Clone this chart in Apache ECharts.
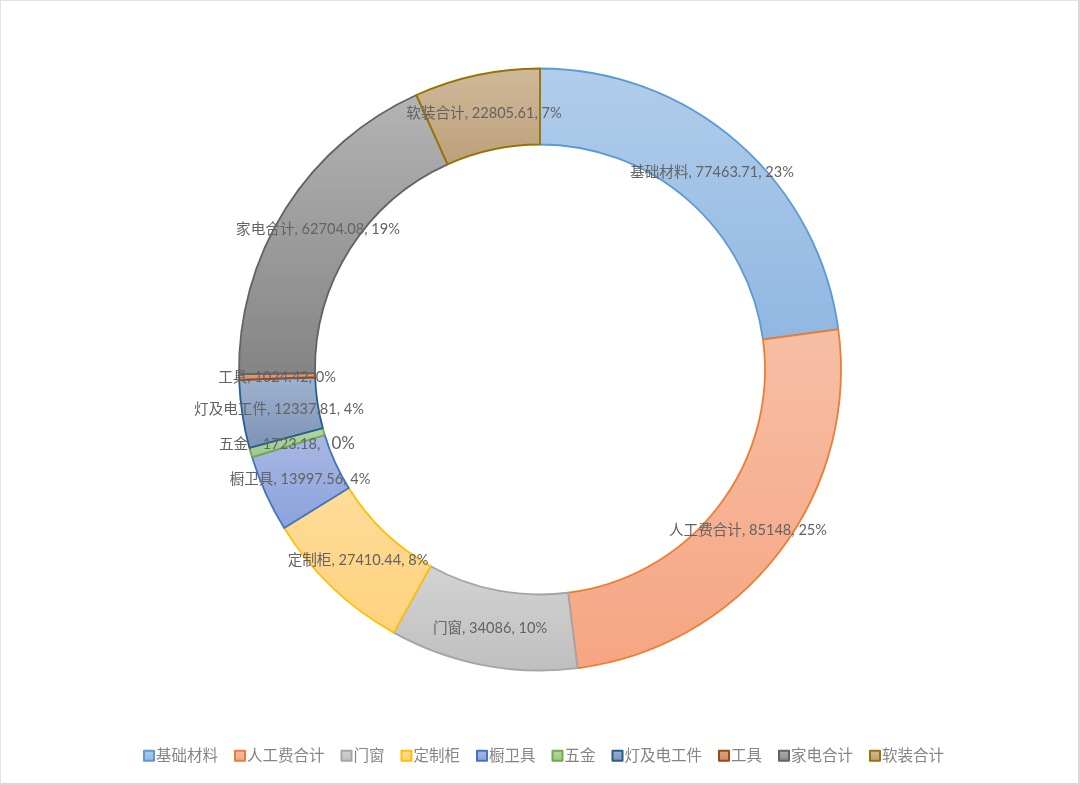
<!DOCTYPE html>
<html>
<head>
<meta charset="utf-8">
<style>
html,body{margin:0;padding:0;background:#fff;}
#c{position:absolute;left:0;top:0;width:1080px;height:785px;}
#frame{position:absolute;left:0;top:0;width:1077px;height:782px;border:1px solid #e2e2e2;border-right:2px solid #d9d9d9;border-bottom:2px solid #d9d9d9;pointer-events:none;}
</style>
<script src="https://cdn.jsdelivr.net/npm/echarts@6/dist/echarts.min.js"></script>
</head>
<body>
<div id="c"></div><div id="frame"></div>
<script>
const categories = ['基础材料','人工费合计','门窗','定制柜','橱卫具','五金','灯及电工件','工具','家电合计','软装合计'];
const valueTexts = ['77463.71','85148','34086','27410.44','13997.56','1723.18','12337.81','1024.42','62704.08','22805.61'];
const values = [77463.71,85148,34086,27410.44,13997.56,1723.18,12337.81,1024.42,62704.08,22805.61];
const percents = [23,25,10,8,4,0,4,0,19,7];
const topColors = ['#b2cdea','#f6bfa5','#d3d3d3','#ffdc9a','#a9b8e3','#b5d6a5','#9fb3d0','#dca58c','#b4b4b4','#cfb99b'];
const bottomColors = ['#90b7e2','#f6a582','#bfbfbf','#ffd27d','#8aa2dc','#9cc88a','#7d93b5','#c98a6c','#848484','#bda07a'];
const borderColors = ['#5b9bd5','#ed7d31','#a5a5a5','#ffc000','#4472c4','#70ad47','#255e91','#9e480e','#636363','#997300'];
const labelCenters = [[712,172],[748,530],[490,628],[358,560],[300,479],[287,444],[279,409],[277,377],[318,229],[484,113]];

const FONT = 'Lato, "Noto Sans CJK SC", sans-serif';
const chart = echarts.init(document.getElementById('c'), null, {renderer:'canvas'});
const data = categories.map((name,i)=>({
  name, value: values[i],
  itemStyle:{
    color:new echarts.graphic.LinearGradient(0,0,0,1,[{offset:0,color:topColors[i]},{offset:1,color:bottomColors[i]}]),
    borderColor:borderColors[i], borderWidth:1.8
  }
}));
chart.setOption({
  animation:false,
  backgroundColor:'#fff',
  legend:{
    left:138, top:743, itemWidth:10, itemHeight:10, itemGap:16, icon:'rect',
    textStyle:{color:'#858585',fontSize:15.5,fontFamily:FONT,padding:[0,0,0,-3]},
    data:categories
  },
  series:[{
    type:'pie',
    center:[540,369.5], radius:[225,301], startAngle:90, clockwise:true,
    avoidLabelOverlap:false, silent:true, minAngle:0,
    data,
    labelLine:{show:false},
    label:{
      show:true, position:'inside', color:'#636363', fontSize:14.6, fontFamily:FONT,
      formatter:p=>{
        const i=p.dataIndex;
        if(categories[i]==='五金') return `${p.name},   ${valueTexts[i]},   {big|${percents[i]}%}`;
        return `${p.name}, ${valueTexts[i]}, ${percents[i]}%`;
      },
      rich:{big:{fontSize:17,color:'#636363',fontFamily:FONT}}
    },
    labelLayout:p=>({x:labelCenters[p.dataIndex][0],y:labelCenters[p.dataIndex][1],align:'center',verticalAlign:'middle',hideOverlap:false})
  }]
});
</script>
</body>
</html>
